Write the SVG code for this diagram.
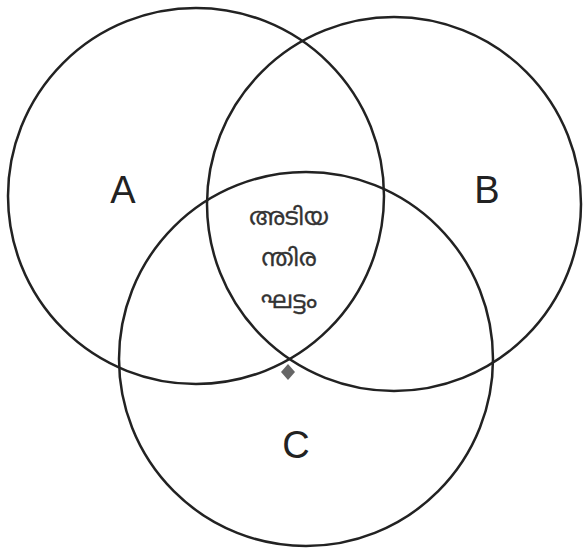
<svg xmlns="http://www.w3.org/2000/svg" width="583" height="550" viewBox="0 0 583 550">
<style>
.c{fill:none;stroke:#222;stroke-width:2.5}
.l{font-family:"Liberation Sans",Arial,sans-serif;font-size:38px;fill:#222;text-anchor:middle}
.m{font-family:"Noto Sans Malayalam","Noto Sans",sans-serif;font-size:24px;fill:#333;text-anchor:middle;stroke:#333;stroke-width:0.3}
</style>
<rect width="583" height="550" fill="#fff"/>
<g id="A"><circle class="c" cx="196" cy="196" r="188"/><text class="l" x="123" y="203">A</text></g>
<g id="B"><circle class="c" cx="394" cy="204" r="187"/><text class="l" x="487" y="203">B</text></g>
<g id="C"><circle class="c" cx="306" cy="359" r="187"/><text class="l" x="296" y="458">C</text></g>
<g id="center">
<text class="m" x="289" y="225">അടിയ</text>
<text class="m" x="289" y="266">ന്തിര</text>
<text class="m" x="289" y="308">ഘട്ടം</text>
</g>
<g id="connectors">
<path d="M288 364 L295 372 L288 380 L281 372 Z" fill="#666"/>
</g>
</svg>
